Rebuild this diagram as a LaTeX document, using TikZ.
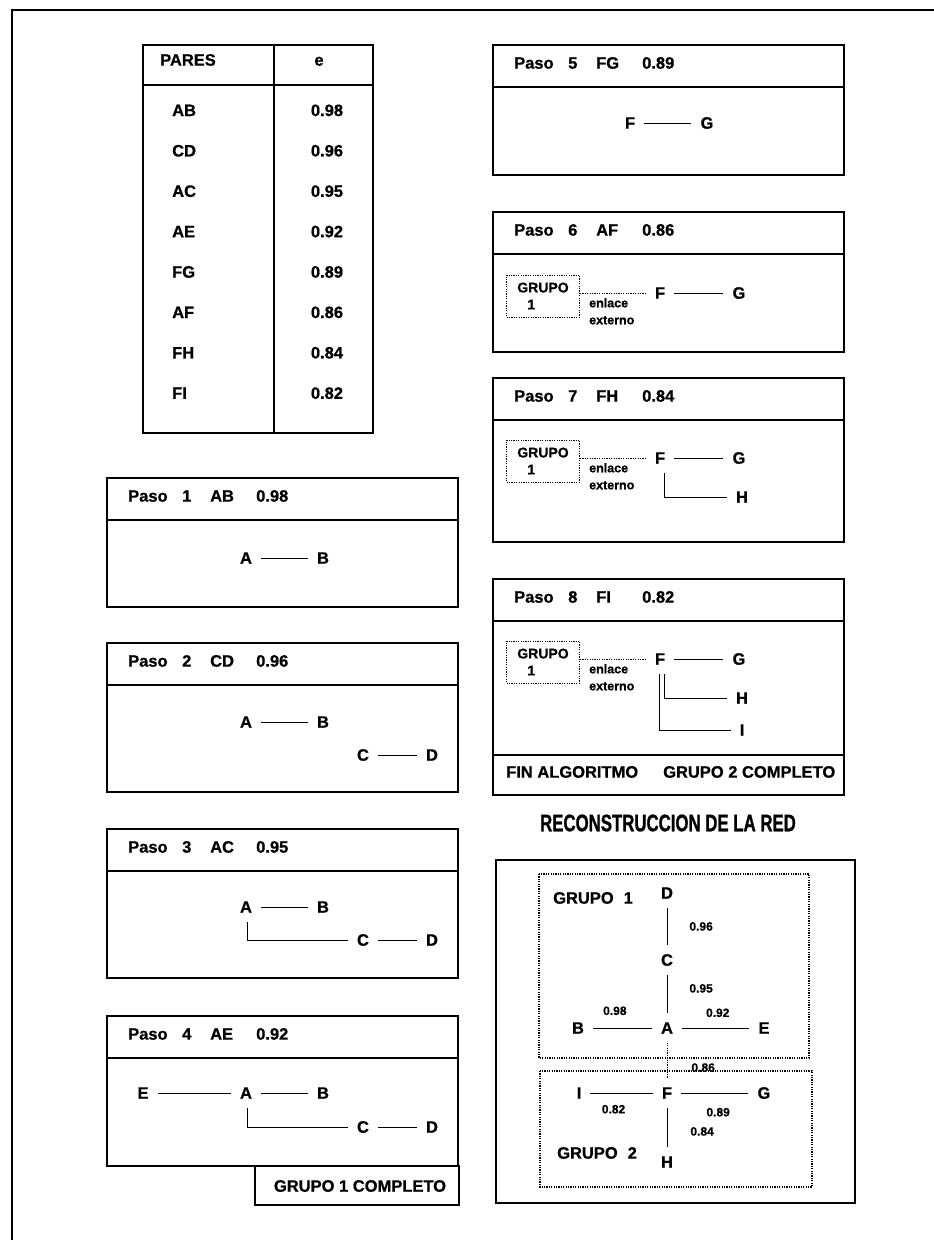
\documentclass[tikz,border=0pt]{standalone}
\usepackage{fontspec}
\setmainfont{Liberation Sans}[BoldFeatures={FakeBold=0.8}]
\newfontfamily\titlefont[FakeStretch=0.7,BoldFeatures={FakeBold=1}]{Liberation Sans}
\usepackage{tikz}
\usetikzlibrary{positioning}

% marco de un paso: x izq, arriba, abajo, numero, par, valor
\newcommand{\pasobox}[6]{%
\draw[frame] (#1,#2) rectangle (#1+351,#3);
\draw[frame] (#1,#2+42) -- (#1+351,#2+42);
\node[txt,anchor=mid west] (paso#4) at (#1+21,#2+21) {Paso};
\node[txt,anchor=mid west] (num#4) at (#1+75,#2+21) {#4};
\node[txt,anchor=mid west] (par#4) at (#1+103,#2+21) {#5};
\node[txt,anchor=mid west] (val#4) at (#1+149,#2+21) {#6};}

% grupo 1 con enlace externo hacia F
\newcommand{\enlace}[2]{%
\node[grp] (grupo#1) at (543,#2+3) {GRUPO\\\hspace*{10pt}1};
\node[vtx] (f#1) at (660,#2) {F};
\node[vtx] (g#1) at (739,#2) {G};
\node[lbl,anchor=north west,align=left] (ext#1) at (589,#2+5) {enlace\\externo};
\draw[extlink] (grupo#1.east |- f#1) -- (f#1);
\draw[conn] (f#1) -- (g#1);}

\begin{document}
\begin{tikzpicture}[x=1pt, y=-1pt, frame/.style={line width=1.2pt}, txt/.style={font=\bfseries\fontsize{16.5}{19}\selectfont,inner sep=0pt}, vtx/.style={font=\bfseries\fontsize{16.5}{19}\selectfont,inner sep=9pt}, lbl/.style={font=\bfseries\fontsize{12.5}{17}\selectfont,inner sep=0pt}, num/.style={font=\bfseries\fontsize{12}{14}\selectfont,inner sep=0pt}, grp/.style={draw,line width=1pt,dash pattern=on 1.2pt off 1.2pt,minimum width=73pt,minimum height=42pt,align=left,inner sep=0pt,font=\bfseries\fontsize{14}{17}\selectfont}, conn/.style={line width=0.9pt}, extlink/.style={line width=1pt,dash pattern=on 1.2pt off 1.2pt}, dotbox/.style={line width=1.1pt,dash pattern=on 1.2pt off 1.2pt}, title/.style={font=\titlefont\bfseries\fontsize{24}{26}\selectfont,inner sep=0pt}]
\useasboundingbox (0,0) rectangle (934,1240);
\draw[line width=2pt] (12,1240) -- (12,10) -- (934,10);

% tabla de pares
\draw[frame] (143,45) rectangle (373,433);
\draw[frame] (143,85) -- (373,85);
\draw[frame] (274,45) -- (274,433);
\node[txt,anchor=mid west] (pares) at (160,63) {PARES};
\node[txt,anchor=mid] (ecol) at (319,63) {e};
\foreach \pr/\ve [count=\i] in {AB/0.98,CD/0.96,AC/0.95,AE/0.92,FG/0.89,AF/0.86,FH/0.84,FI/0.82} {
  \node[txt,anchor=mid west] (t\pr) at (172,73+40.4*\i) {\pr};
  \node[txt,anchor=mid] (e\pr) at (327,73+40.4*\i) {\ve};
}

% pasos 1-4
\pasobox{107}{478}{607}{1}{AB}{0.98}
\node[vtx] (a1) at (246,558) {A};
\node[vtx] (b1) at (323,558) {B};
\draw[conn] (a1) -- (b1);

\pasobox{107}{643}{792}{2}{CD}{0.96}
\node[vtx] (a2) at (246,722) {A};
\node[vtx] (b2) at (323,722) {B};
\node[vtx] (c2) at (363,755) {C};
\node[vtx] (d2) at (432,755) {D};
\draw[conn] (a2) -- (b2);
\draw[conn] (c2) -- (d2);

\pasobox{107}{829}{978}{3}{AC}{0.95}
\node[vtx] (a3) at (246,907) {A};
\node[vtx] (b3) at (323,907) {B};
\node[vtx] (c3) at (363,940) {C};
\node[vtx] (d3) at (432,940) {D};
\draw[conn] (a3) -- (b3);
\draw[conn] (c3) -- (d3);
\draw[conn] ([xshift=1pt]a3.south) |- (c3);

\pasobox{107}{1016}{1166}{4}{AE}{0.92}
\node[vtx] (e4) at (143,1093) {E};
\node[vtx] (a4) at (246,1093) {A};
\node[vtx] (b4) at (323,1093) {B};
\node[vtx] (c4) at (363,1127) {C};
\node[vtx] (d4) at (432,1127) {D};
\draw[conn] (e4) -- (a4);
\draw[conn] (a4) -- (b4);
\draw[conn] (c4) -- (d4);
\draw[conn] ([xshift=1pt]a4.south) |- (c4);
\draw[frame] (255,1166) rectangle (459,1205);
\node[txt] (fin1) at (360,1186) {GRUPO 1 COMPLETO};

% pasos 5-8
\pasobox{493}{45}{175}{5}{FG}{0.89}
\node[vtx] (f5) at (630,123) {F};
\node[vtx] (g5) at (707,123) {G};
\draw[conn] (f5) -- (g5);

\pasobox{493}{212}{352}{6}{AF}{0.86}
\enlace{6}{293}

\pasobox{493}{378}{542}{7}{FH}{0.84}
\enlace{7}{458}
\node[vtx] (h7) at (742,497) {H};
\draw[conn] ([xshift=4pt]f7.south) |- (h7);

\pasobox{493}{579}{755}{8}{FI}{0.82}
\enlace{8}{659}
\node[vtx] (h8) at (742,698) {H};
\node[vtx] (i8) at (742,730) {I};
\draw[conn] ([xshift=4pt]f8.south) |- (h8);
\draw[conn] ([xshift=-1pt]f8.south) |- (i8);
\draw[frame] (493,755) rectangle (844,795);
\node[txt,anchor=mid west] (fin2) at (506,775) {FIN ALGORITMO};
\node[txt,anchor=mid west] (fin3) at (663,775) {GRUPO 2 COMPLETO};

% reconstruccion de la red
\node[title] (titulo) at (668,823) {RECONSTRUCCION DE LA RED};
\draw[frame] (496,860) rectangle (855,1203);
\draw[dotbox] (539,874) rectangle (809,1058);
\draw[dotbox] (540,1071) rectangle (812,1187);
\node[txt,anchor=mid west] (grupoA) at (553,901) {GRUPO\hspace{10pt}1};
\node[txt,anchor=mid west] (grupoB) at (557,1156) {GRUPO\hspace{10pt}2};
\node[vtx] (rD) at (667,893) {D};
\node[vtx] (rC) at (667,960) {C};
\node[vtx] (rA) at (667,1028) {A};
\node[vtx] (rB) at (578,1028) {B};
\node[vtx] (rE) at (764,1028) {E};
\node[vtx] (rF) at (667,1093) {F};
\node[vtx] (rI) at (579,1093) {I};
\node[vtx] (rG) at (764,1093) {G};
\node[vtx] (rH) at (667,1162) {H};
\draw[conn] (rD) -- node[num,right=22pt]{0.96} (rC);
\draw[conn] (rC) -- node[num,pos=0.35,right=22pt]{0.95} (rA);
\draw[conn] (rB) -- node[num,pos=0.37,above=12.5pt]{0.98} (rA);
\draw[conn] (rA) -- node[num,pos=0.53,above=10.5pt]{0.92} (rE);
\draw[extlink] (rA) -- node[num,pos=0.7,right=24pt]{0.86} (rF);
\draw[conn] (rI) -- node[num,pos=0.37,below=11.5pt]{0.82} (rF);
\draw[conn] (rF) -- node[num,pos=0.55,below=14.5pt]{0.89} (rG);
\draw[conn] (rF) -- node[num,pos=0.6,right=23pt]{0.84} (rH);
\end{tikzpicture}
\end{document}
